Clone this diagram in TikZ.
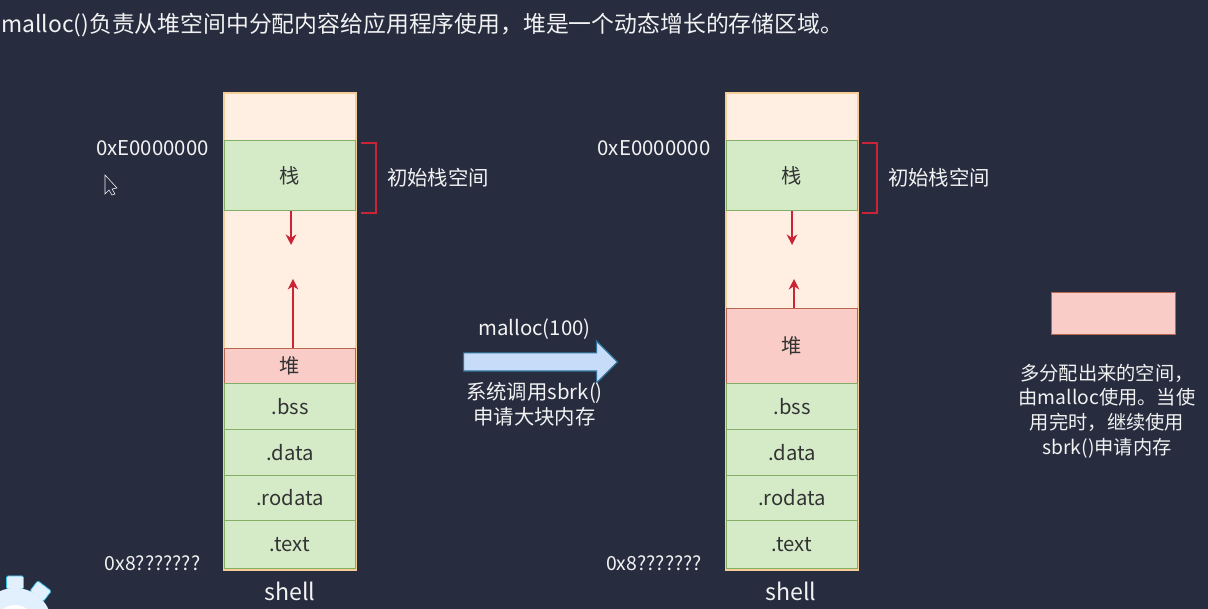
\documentclass[tikz,border=0pt]{standalone}
\usepackage{fontspec}
\setmainfont{Noto Sans CJK SC}
\usetikzlibrary{arrows.meta,shapes.arrows}
\definecolor{bgdark}{HTML}{272C3F}
\definecolor{spacefill}{HTML}{FFEFE3}
\definecolor{spaceline}{HTML}{F5CD96}
\definecolor{greenfill}{HTML}{D5EBC8}
\definecolor{greenline}{HTML}{84AE66}
\definecolor{heapfill}{HTML}{F9CCC7}
\definecolor{heapline}{HTML}{B9654F}
\definecolor{redline}{HTML}{CB2436}
\definecolor{arrowfill}{HTML}{C6DCF8}
\definecolor{arrowline}{HTML}{2F7199}
\definecolor{labeltext}{HTML}{F2F2F2}
\definecolor{gearfill}{HTML}{E2EFFC}
\definecolor{gearline}{HTML}{35C4EE}
\newlength{\pxu}
\setlength{\pxu}{0.025cm}
\tikzset{
  seg/.style={draw=#1,line width=0.8pt,minimum width=131\pxu,anchor=north west,inner sep=0pt,text=black!80,font=\fontsize{14.4}{16}\selectfont},
  greenseg/.style={seg=greenline,fill=greenfill},
  heapseg/.style={seg=heapline,fill=heapfill},
  spacebox/.style={draw=spaceline,fill=spacefill,line width=1.2pt,anchor=north west,inner sep=0pt,minimum width=132\pxu,minimum height=477\pxu},
  label/.style={text=labeltext,inner sep=0pt,font=\fontsize{14.5}{17.7}\selectfont},
  lowlabel/.style={label,font=\fontsize{13.8}{16}\selectfont},
  shelllabel/.style={label,font=\fontsize{16.5}{18}\selectfont},
  redarrow/.style={draw=redline,line width=1pt,-{Stealth[length=7.5pt,width=7.5pt]}},
}
\begin{document}
\begin{tikzpicture}[x=2.5cm,y=2.5cm]
    \fill[bgdark] (0,0) rectangle (12.08,6.09);
    \useasboundingbox (0,0) rectangle (12.08,6.09);

    \node[label,anchor=west,font=\fontsize{16.25}{18}\selectfont] (title) at (0.01,5.84)
        {malloc()负责从堆空间中分配内容给应用程序使用，堆是一个动态增长的存储区域。};

    % left memory map
    \node[spacebox] (spaceA) at (2.23,5.17) {};
    \node[greenseg,minimum height=70\pxu] (stackA) at (2.24,4.69) {栈};
    \node[heapseg,minimum height=35\pxu] (heapA) at (2.24,2.61) {堆};
    \node[greenseg,minimum height=46\pxu] (bssA) at (2.24,2.26) {.bss};
    \node[greenseg,minimum height=46\pxu] (dataA) at (2.24,1.80) {.data};
    \node[greenseg,minimum height=45\pxu] (rodataA) at (2.24,1.34) {.rodata};
    \node[greenseg,minimum height=48\pxu] (textA) at (2.24,0.89) {.text};

    \node[label] (topA) at (1.525,4.61) {0xE0000000};
    \node[lowlabel] (lowA) at (1.525,0.46) {0x8???????};
    \node[shelllabel] (shellA) at (2.90,0.18) {shell};
    \node[label] (initA) at (4.38,4.31) {初始栈空间};

    \coordinate (downA) at (2.91,3.64);
    \coordinate (upA) at (2.93,3.30);
    \draw[redarrow] (stackA.south -| downA) -- (downA);
    \draw[redarrow] (heapA.north -| upA) -- (upA);
    \coordinate (brAa) at (3.61,4.66);
    \coordinate (brAb) at (3.76,4.66);
    \coordinate (brAc) at (3.76,3.96);
    \coordinate (brAd) at (3.61,3.96);
    \draw[redline,line width=1pt] (brAa) -- (brAb) -- (brAc) -- (brAd);

    % middle
    \node[label] (mallocCall) at (5.345,2.80) {malloc(100)};
    \node[draw=arrowline,fill=arrowfill,single arrow,line width=0.8pt,inner xsep=0pt,inner ysep=8.5\pxu,
          minimum height=154\pxu,minimum width=41\pxu,single arrow head extend=12\pxu,
          single arrow tip angle=90] (bigArrow) at (5.36,2.47) {};
    \node[label,align=center] (sbrkCall) at (5.345,2.05) {系统调用sbrk()\\申请大块内存};

    % right memory map
    \node[spacebox] (spaceB) at (7.25,5.17) {};
    \node[greenseg,minimum height=70\pxu] (stackB) at (7.26,4.69) {栈};
    \node[heapseg,minimum height=75\pxu] (heapB) at (7.26,3.01) {堆};
    \node[greenseg,minimum height=46\pxu] (bssB) at (7.26,2.26) {.bss};
    \node[greenseg,minimum height=46\pxu] (dataB) at (7.26,1.80) {.data};
    \node[greenseg,minimum height=45\pxu] (rodataB) at (7.26,1.34) {.rodata};
    \node[greenseg,minimum height=48\pxu] (textB) at (7.26,0.89) {.text};

    \node[label] (topB) at (6.54,4.61) {0xE0000000};
    \node[lowlabel] (lowB) at (6.54,0.46) {0x8???????};
    \node[shelllabel] (shellB) at (7.91,0.18) {shell};
    \node[label] (initB) at (9.39,4.31) {初始栈空间};

    \coordinate (downB) at (7.92,3.64);
    \coordinate (upB) at (7.94,3.30);
    \draw[redarrow] (stackB.south -| downB) -- (downB);
    \draw[redarrow] (heapB.north -| upB) -- (upB);
    \coordinate (brBa) at (8.62,4.66);
    \coordinate (brBb) at (8.77,4.66);
    \coordinate (brBc) at (8.77,3.96);
    \coordinate (brBd) at (8.62,3.96);
    \draw[redline,line width=1pt] (brBa) -- (brBb) -- (brBc) -- (brBd);

    % legend
    \node[heapseg,minimum width=124\pxu,minimum height=42\pxu] (legend) at (10.51,3.17) {};
    \node[label,align=center,font=\fontsize{13.7}{17.6}\selectfont] (note) at (11.07,1.98)
        {多分配出来的空间，\\由malloc使用。当使\\用完时，继续使用\\sbrk()申请内存};

    % cursor
    \fill[bgdark,draw=labeltext,line width=0.4pt] (1.05,4.34) -- (1.05,4.15) -- (1.09,4.19)
        -- (1.12,4.14) -- (1.15,4.15) -- (1.12,4.20) -- (1.17,4.21) -- cycle;

    % gear in the corner
    \begin{scope}
        \clip (0,0) rectangle (12.08,6.09);
        \foreach \a in {-37,0,37}{
            \draw[gearline,fill=gearfill,line width=0.5pt,rounded corners=1pt,rotate around={\a:(0.15,-0.16)}]
                (0.065,0.20) rectangle (0.235,0.33);
        }
        \fill[gearfill] (0.15,-0.16) circle (0.37);
        \fill[white] (0.15,-0.16) circle (0.20);
    \end{scope}
\end{tikzpicture}
\end{document}
